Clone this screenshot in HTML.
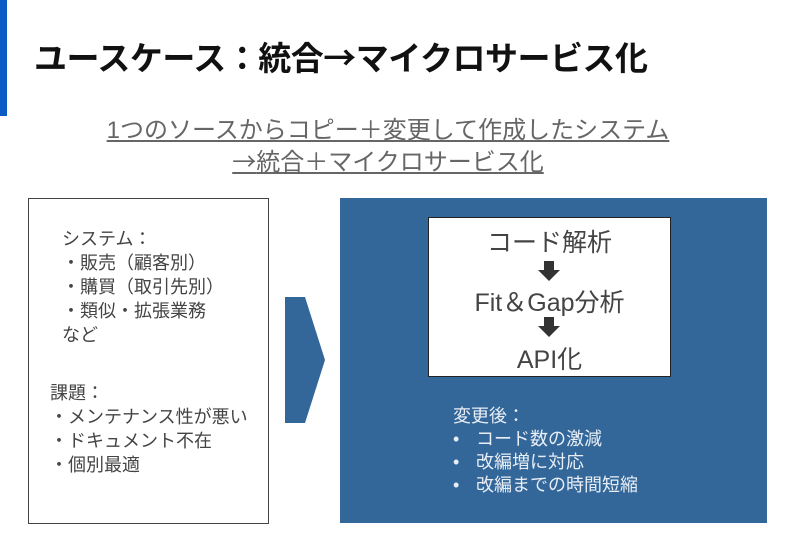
<!DOCTYPE html><html><head><meta charset="utf-8"><style>
body{margin:0;width:800px;height:554px;background:#fff;position:relative;overflow:hidden;font-family:"Liberation Sans","Noto Sans CJK JP",sans-serif}
div{position:absolute}
.t{white-space:nowrap}
.a{font-family:"Noto Sans CJK JP",sans-serif}
</style></head><body>
<div style="left:0;top:0;width:7px;height:116px;background:#0a5bc4"></div>
<div class="t" style="left:34px;top:32px;font-size:33px;font-weight:bold;color:#111;letter-spacing:-0.5px">ユースケース：統合<span class="a">→</span>マイクロサービス化</div>
<div class="t" style="left:0;width:776px;top:116px;text-align:center;font-size:24px;line-height:29px;color:#666"><span style="text-decoration:underline">1つのソースからコピー＋変更して作成したシステム</span><br><span style="text-decoration:underline"><span class="a">→</span>統合＋マイクロサービス化</span></div>
<div style="left:28px;top:198px;width:239px;height:324px;border:1px solid #444"></div>
<div class="t" style="left:62px;top:227px;font-size:18px;line-height:24px;color:#444">システム：<br>・販売（顧客別）<br>・購買（取引先別）<br>・類似・拡張業務<br>など</div>
<div class="t" style="left:50px;top:381px;font-size:18px;line-height:24px;color:#444">課題：<br>・メンテナンス性が悪い<br>・ドキュメント不在<br>・個別最適</div>
<svg style="position:absolute;left:0;top:0" width="800" height="554"><polygon points="285,297 305,297 325,360 305,423 285,423" fill="#336699"/></svg>
<div style="left:340px;top:198px;width:427px;height:325px;background:#336699"></div>
<div style="left:428px;top:217px;width:241px;height:158px;background:#fff;border:1px solid #222"></div>
<div class="t" style="left:428px;width:243px;top:223px;text-align:center;font-size:25px;color:#444">コード解析</div>
<div class="t" style="left:428px;width:243px;top:283px;text-align:center;font-size:25px;color:#444">Fit＆Gap分析</div>
<div class="t" style="left:428px;width:243px;top:340px;text-align:center;font-size:25px;color:#444">API化</div>
<svg style="position:absolute;left:0;top:0" width="800" height="554"><polygon points="544,261 554,261 554,270 560,270 549,281 538,270 544,270" fill="#333"/><polygon points="544,317 554,317 554,326 560,326 549,337 538,326 544,326" fill="#333"/></svg>
<div class="t" style="left:453px;top:405px;font-size:18px;line-height:23px;color:#e8eef5">変更後：</div>
<div class="t" style="left:453px;top:428px;font-size:18px;line-height:23px;color:#e8eef5">•<br>•<br>•</div>
<div class="t" style="left:476px;top:428px;font-size:18px;line-height:23px;color:#e8eef5">コード数の激減<br>改編増に対応<br>改編までの時間短縮</div>
</body></html>
